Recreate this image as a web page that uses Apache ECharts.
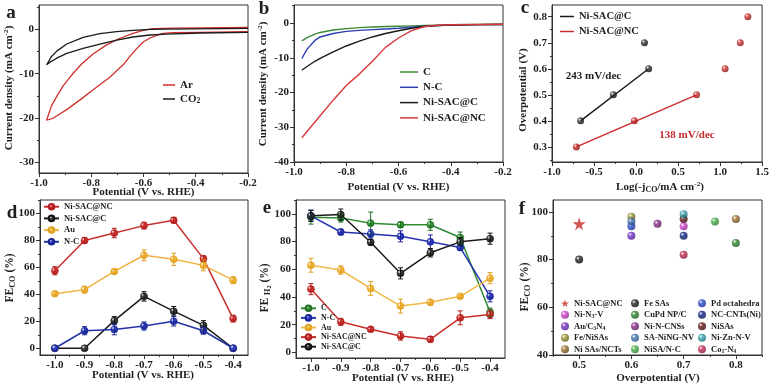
<!DOCTYPE html>
<html><head><meta charset="utf-8">
<script src="https://cdn.jsdelivr.net/npm/echarts@6/dist/echarts.min.js"></script>
<style>html,body{margin:0;padding:0;background:#fff}#c{width:772px;height:386px}</style>
</head><body><div id="c"></div>
<script>
// ---------- Panel a : CV loops ----------
const aArX = [-0.20,-0.385,-0.487,-0.525,-0.55,-0.576,-0.60,-0.627,-0.652,-0.678,-0.729,-0.79,-0.843,-0.894,-0.945,-0.971,-0.964,-0.952,-0.932,-0.907,-0.875,-0.837,-0.792,-0.741,-0.69,-0.64,-0.601,-0.563,-0.487,-0.20];
const aArY = [-0.52,-0.67,-0.75,-0.9,-1.35,-2.0,-2.8,-4.4,-6.1,-8.0,-10.8,-13.5,-15.9,-18.1,-20.0,-20.5,-19.3,-17.2,-15.1,-12.7,-10.3,-7.8,-5.5,-3.5,-2.0,-0.9,-0.22,0.15,0.3,0.45];
const aCoX = [-0.20,-0.385,-0.512,-0.576,-0.64,-0.703,-0.767,-0.831,-0.894,-0.932,-0.958,-0.971,-0.964,-0.952,-0.932,-0.894,-0.831,-0.767,-0.703,-0.64,-0.576,-0.512,-0.20];
const aCoY = [-0.67,-0.82,-1.05,-1.27,-1.72,-2.4,-3.3,-4.3,-5.4,-6.5,-7.4,-8.0,-7.3,-6.1,-4.9,-3.3,-1.8,-0.97,-0.52,-0.22,0.0,0.07,0.22];
const aXTicks = [-1.0,-0.8,-0.6,-0.4,-0.2];
const aYTicks = [-30,-20,-10,0];

// ---------- Panel b : LSV ----------
const bX   = [-0.97,-0.95,-0.92,-0.90,-0.85,-0.80,-0.75,-0.70,-0.65,-0.60,-0.55,-0.50,-0.45,-0.40,-0.30,-0.20];
const bC   = [-5.1,-4.2,-3.2,-2.7,-2.0,-1.6,-1.3,-1.15,-1.0,-0.9,-0.8,-0.7,-0.6,-0.5,-0.4,-0.35];
const bNC  = [-10.2,-7.5,-5.0,-4.0,-3.0,-2.4,-2.1,-1.9,-1.7,-1.5,-1.2,-0.9,-0.7,-0.55,-0.45,-0.4];
const bNiC = [-13.6,-12.5,-11.0,-10.2,-8.3,-6.6,-5.2,-4.0,-3.0,-2.2,-1.5,-1.0,-0.75,-0.6,-0.45,-0.4];
const bNiNC= [-33.0,-31.2,-28.5,-26.7,-22.2,-18.0,-14.7,-11.0,-7.0,-4.3,-2.2,-1.0,-0.65,-0.5,-0.4,-0.35];
const bXTicks = [-1.0,-0.8,-0.6,-0.4,-0.2];
const bYTicks = [-40,-30,-20,-10,0];

// ---------- Panel c : Tafel ----------
const cNiCX = [-0.66,-0.27,0.15,0.10];
const cNiCY = [0.4,0.5,0.6,0.7];
const cNiNCX = [-0.71,-0.02,0.72,1.06,1.24,1.33];
const cNiNCY = [0.3,0.4,0.5,0.6,0.7,0.8];
const cXTicks = [-1.0,-0.5,0.0,0.5,1.0,1.5];
const cYTicks = [0.3,0.4,0.5,0.6,0.7,0.8];

// ---------- Panel d : FE CO ----------
const dX = [-1.0,-0.9,-0.8,-0.7,-0.6,-0.5,-0.4];
const dNiNC = [57.5,80,85.5,91,95,66.5,22];   const dNiNCErr = [3,2,3.5,2.5,2,2,2.5];
const dNiC  = [0,0,20.5,38.5,27.5,17,0];      const dNiCErr  = [0,0,3,3.5,3.5,3.5,0];
const dAu   = [40.5,43.5,57,69,66,61.5,50.5]; const dAuErr   = [1.5,2.5,1.5,4,4.5,4,2.5];
const dNC   = [0,13,14,16.5,20,13,0];         const dNCErr   = [0,3,4,3,3.5,2.5,0];
const dXTicks = [-1.0,-0.9,-0.8,-0.7,-0.6,-0.5,-0.4];
const dYTicks = [0,20,40,60,80,100];

// ---------- Panel e : FE H2 ----------
const eX = [-1.0,-0.9,-0.8,-0.7,-0.6,-0.5,-0.4];
const eC    = [97.6,97.1,93.3,92.1,92.1,82.9,29];  const eCErr    = [5,3,8,2,4,4,3];
const eNC   = [98.6,86.9,85.5,83.8,79.8,75.7,40.5];const eNCErr   = [4,2,3,4,5,2,4];
const eAu   = [62.9,59.5,46.2,33.5,36.2,40.5,53.6];const eAuErr   = [5,3,5,5,2,1,4];
const eNiNC = [45.7,22.1,16.7,11.9,9.5,25,27.4];   const eNiNCErr = [4,2.5,1.5,3,2,5,3];
const eNiC  = [98.6,99.5,79.5,57.1,71.9,79.8,82.1];const eNiCErr  = [4,4,2,4,3,3,4];
const eXTicks = [-1.0,-0.9,-0.8,-0.7,-0.6,-0.5,-0.4];
const eYTicks = [0,20,40,60,80,100];

// ---------- Panel f : comparison ----------
const fNames  = ['Ni-SAC@NC','Fe SAs','Pd octahedra','Ni-N3-V','CuPd NP/C','NC-CNTs(Ni)','Au/C3N4','Ni-N-CNSs','NiSAs','Fe/NiSAs','SA-NiNG-NV','Ni-Zn-N-V','Ni SAs/NCTs','NiSA/N-C','Co1-N4'];
const fLabels = ['Ni-SAC@NC','Fe SAs','Pd octahedra','Ni-N{s|3}-V','CuPd NP/C','NC-CNTs(Ni)','Au/C{s|3}N{s|4}','Ni-N-CNSs','NiSAs','Fe/NiSAs','SA-NiNG-NV','Ni-Zn-N-V','Ni SAs/NCTs','NiSA/N-C','Co{s|1}-N{s|4}'];
const fX = [0.5,0.5,0.6,0.7,0.8,0.7,0.6,0.65,0.7,0.6,0.6,0.7,0.8,0.76,0.7];
const fY = [95,80,94,94,87,90,90,95,97,98,96,99,97,96,82];
const fXTicks = [0.5,0.6,0.7,0.8];
const fYTicks = [40,60,80,100];

// ================= chart construction =================
const FONT = '"Liberation Serif","Times New Roman",serif';
const INK = '#1e1e1e';
const STAR = 'path://M50,0 L61.2,34.5 L97.6,34.5 L68.2,55.9 L79.4,90.5 L50,69.1 L20.6,90.5 L31.8,55.9 L2.4,34.5 L38.8,34.5 Z';
const zip = (xs, ys) => xs.map((x, i) => [x, ys[i]]);
const mids = t => t.slice(0, -1).map((v, i) => (v + t[i + 1]) / 2);
const fmt = (v, d) => { const r = Math.round(v * 1000) / 1000; return (r === 0 ? 0 : r).toFixed(d); };
function ball(c, dark) {
  return {type:'radial', x:0.35, y:0.32, r:0.75, colorStops:[
    {offset:0, color:'#ffffff'}, {offset:0.3, color:c}, {offset:1, color:dark || c}]};
}

const panels = [
  {g:{left:39,top:5,width:209,height:168},   x:[-1.0,-0.2],  y:[-32.4,5.5],  xt:aXTicks, yt:aYTicks, xd:1, yd:0, xm:mids(aXTicks), ym:[-25,-15,-5,5]},
  {g:{left:294,top:5,width:209,height:157},  x:[-1.0,-0.2],  y:[-40,5.2],    xt:bXTicks, yt:bYTicks, xd:1, yd:0, xm:mids(bXTicks), ym:[-35,-25,-15,-5,5]},
  {g:{left:552,top:5,width:212,height:157},  x:[-1.0,1.5],   y:[0.242,0.845],xt:cXTicks, yt:cYTicks, xd:1, yd:1, xm:[-0.75,-0.25,0.25,0.75,1.25], ym:[0.25,0.35,0.45,0.55,0.65,0.75,0.85]},
  {g:{left:40,top:200,width:208,height:155}, x:[-1.05,-0.35],y:[-5,110],     xt:dXTicks, yt:dYTicks, xd:1, yd:0, xm:mids(dXTicks), ym:[10,30,50,70,90,110]},
  {g:{left:296,top:200,width:209,height:158},x:[-1.05,-0.35],y:[-4,110],     xt:eXTicks, yt:eYTicks, xd:1, yd:0, xm:mids(eXTicks), ym:[10,30,50,70,90,110]},
  {g:{left:553,top:200,width:209,height:155},x:[0.45,0.85],  y:[40,105],     xt:fXTicks, yt:fYTicks, xd:1, yd:0, xm:[0.45,0.55,0.65,0.75,0.85], ym:[50,70,90]}
];

const grid = [], xAxis = [], yAxis = [];
panels.forEach((p, i) => {
  grid.push(Object.assign({show:true, borderColor:'#333', borderWidth:1, backgroundColor:'transparent'}, p.g));
  const lbl = d => ({show:true, fontFamily:FONT, fontWeight:'bold', fontSize:11, color:INK, margin:5, formatter:v => fmt(v, d)});
  xAxis.push({type:'value', gridIndex:i, min:p.x[0], max:p.x[1], position:'bottom',
    axisLine:{show:true, onZero:false, lineStyle:{color:'#333', width:1}},
    axisTick:{show:true, inside:false, length:4, customValues:p.xt, lineStyle:{color:'#333'}},
    axisLabel:Object.assign(lbl(p.xd), {customValues:p.xt}), splitLine:{show:false}});
  xAxis.push({type:'value', gridIndex:i, min:p.x[0], max:p.x[1], position:'bottom',
    axisLine:{show:false, onZero:false}, axisTick:{show:true, length:2, customValues:p.xm, lineStyle:{color:'#333'}},
    axisLabel:{show:false}, splitLine:{show:false}});
  yAxis.push({type:'value', gridIndex:i, min:p.y[0], max:p.y[1], position:'left',
    axisLine:{show:true, onZero:false, lineStyle:{color:'#333', width:1}},
    axisTick:{show:true, inside:false, length:4, customValues:p.yt, lineStyle:{color:'#333'}},
    axisLabel:Object.assign(lbl(p.yd), {customValues:p.yt}), splitLine:{show:false}});
  yAxis.push({type:'value', gridIndex:i, min:p.y[0], max:p.y[1], position:'left',
    axisLine:{show:false, onZero:false}, axisTick:{show:true, length:2, customValues:p.ym, lineStyle:{color:'#333'}},
    axisLabel:{show:false}, splitLine:{show:false}});
});

const series = [];
function curve(panel, name, xs, ys, color, w) {
  series.push({type:'line', name, xAxisIndex:2*panel, yAxisIndex:2*panel, data:zip(xs, ys),
    symbol:'none', showSymbol:false, smooth:false, lineStyle:{color, width:w || 1.3}, itemStyle:{color}, z:3});
}
function errRender(params, api) {
  const x = api.value(0), lo = api.value(1), hi = api.value(2);
  if (hi - lo <= 0) return {type:'group', children:[]};
  const p1 = api.coord([x, hi]), p2 = api.coord([x, lo]);
  const w = 2.5, st = {stroke:api.visual('color'), lineWidth:1};
  return {type:'group', children:[
    {type:'line', shape:{x1:p1[0],y1:p1[1],x2:p2[0],y2:p2[1]}, style:st},
    {type:'line', shape:{x1:p1[0]-w,y1:p1[1],x2:p1[0]+w,y2:p1[1]}, style:st},
    {type:'line', shape:{x1:p2[0]-w,y1:p2[1],x2:p2[0]+w,y2:p2[1]}, style:st}]};
}
function fePoints(panel, name, xs, ys, errs, color, dark, lineColor) {
  series.push({type:'line', name, xAxisIndex:2*panel, yAxisIndex:2*panel, data:zip(xs, ys),
    symbol:'circle', symbolSize:7, showSymbol:true, lineStyle:{color:lineColor || color, width:1.5},
    itemStyle:{color:ball(color, dark), borderColor:dark, borderWidth:0.6}, z:3});
  series.push({type:'custom', name:name + '#err', xAxisIndex:2*panel, yAxisIndex:2*panel,
    data:xs.map((x, i) => [x, ys[i] - errs[i], ys[i] + errs[i]]), renderItem:errRender,
    itemStyle:{color:dark}, z:4, encode:{x:0, y:[1,2]}});
}

// a
curve(0, 'a:Ar', aArX, aArY, '#d0302c', 1.3);
curve(0, 'a:CO2', aCoX, aCoY, '#1a1a1a', 1.3);
// b
curve(1, 'b:C', bX, bC, '#3a8a35', 1.4);
curve(1, 'b:N-C', bX, bNC, '#2b3fb0', 1.4);
curve(1, 'b:Ni-SAC@C', bX, bNiC, '#1a1a1a', 1.4);
curve(1, 'b:Ni-SAC@NC', bX, bNiNC, '#d83838', 1.4);
// c
series.push({type:'line', name:'c:Ni-SAC@C', xAxisIndex:4, yAxisIndex:4, symbol:'none',
  data:[[cNiCX[0], cNiCY[0]], [cNiCX[2], cNiCY[2]]], lineStyle:{color:'#1a1a1a', width:1.4}, itemStyle:{color:'#1a1a1a'}});
series.push({type:'line', name:'c:Ni-SAC@NC', xAxisIndex:4, yAxisIndex:4, symbol:'none',
  data:[[cNiNCX[0], cNiNCY[0]], [cNiNCX[2], cNiNCY[2]]], lineStyle:{color:'#d02a2a', width:1.4}, itemStyle:{color:'#d02a2a'}});
series.push({type:'scatter', name:'c:bk', xAxisIndex:4, yAxisIndex:4, data:zip(cNiCX, cNiCY),
  symbolSize:7, itemStyle:{color:ball('#3a3a3a', '#000')}, z:5});
series.push({type:'scatter', name:'c:rd', xAxisIndex:4, yAxisIndex:4, data:zip(cNiNCX, cNiNCY),
  symbolSize:7, itemStyle:{color:ball('#d03030', '#8a1010')}, z:5});
// d
fePoints(3, 'd:Ni-SAC@NC', dX, dNiNC, dNiNCErr, '#d63a34', '#b01e1e', '#c8302c');
fePoints(3, 'd:Ni-SAC@C', dX, dNiC, dNiCErr, '#444444', '#111111', '#1a1a1a');
fePoints(3, 'd:Au', dX, dAu, dAuErr, '#f4b840', '#e0a020', '#f0b040');
fePoints(3, 'd:N-C', dX, dNC, dNCErr, '#3040c0', '#1a2590', '#2533a8');
// e
fePoints(4, 'e:C', eX, eC, eCErr, '#3a9a3a', '#1f6e22', '#2f8a30');
fePoints(4, 'e:N-C', eX, eNC, eNCErr, '#3040c8', '#1a2598', '#2533b0');
fePoints(4, 'e:Au', eX, eAu, eAuErr, '#f4b840', '#e0a020', '#f0b845');
fePoints(4, 'e:Ni-SAC@NC', eX, eNiNC, eNiNCErr, '#d63a34', '#b01e1e', '#cc2e2a');
fePoints(4, 'e:Ni-SAC@C', eX, eNiC, eNiCErr, '#444444', '#111111', '#1a1a1a');
// f
const fColors = ['#c8282a','#2a2a2a','#2a4ed0','#d848d0','#2f8a30','#14268a','#7a34c8','#8c2c8c','#6a1818','#a09a34','#4a7ab4','#3aa6ae','#a07632','#4cb04a','#c83058'];
const fDark   = ['#a01818','#000000','#14288a','#8a1a8a','#14501a','#050f50','#40108a','#501050','#300606','#5a5410','#204a80','#156a70','#5a3e10','#207a22','#801030'];
fNames.forEach((n, i) => {
  series.push({type:'scatter', name:'f:' + n, xAxisIndex:10, yAxisIndex:10, data:[[fX[i], fY[i]]],
    symbol: i === 0 ? STAR : 'circle', symbolSize: i === 0 ? 13 : 8,
    itemStyle:{color: i === 0 ? '#c82a2a' : ball(fColors[i], fDark[i])}, z:5});
});

const strip = n => n.slice(2);
const legTxt = (size, lh) => ({fontFamily:FONT, fontWeight:'bold', fontSize:size, color:INK, lineHeight:lh,
  rich:{s:{fontFamily:FONT, fontWeight:'bold', fontSize:size*0.7, color:INK, padding:[size*0.45,0,0,0]}}});
const baseLeg = {orient:'vertical', padding:0, selectedMode:false, inactiveColor:'#999'};
const legend = [
  Object.assign({}, baseLeg, {left:163, top:79, icon:'rect', itemWidth:12, itemHeight:1.5, itemGap:2, data:['a:Ar','a:CO2'],
    formatter:n => n === 'a:CO2' ? 'CO{s|2}' : strip(n), textStyle:legTxt(11, 12)}),
  Object.assign({}, baseLeg, {left:400, top:66, icon:'rect', itemWidth:18, itemHeight:1.5, itemGap:3.3, data:['b:C','b:N-C','b:Ni-SAC@C','b:Ni-SAC@NC'],
    formatter:strip, textStyle:legTxt(11, 12)}),
  Object.assign({}, baseLeg, {left:560, top:10.5, icon:'rect', itemWidth:14, itemHeight:1.5, itemGap:3, data:['c:Ni-SAC@C','c:Ni-SAC@NC'],
    formatter:strip, textStyle:legTxt(10.5, 12)}),
  Object.assign({}, baseLeg, {left:43, top:201.7, itemWidth:15, itemHeight:7, itemGap:1.7, data:['d:Ni-SAC@NC','d:Ni-SAC@C','d:Au','d:N-C'],
    formatter:strip, textStyle:legTxt(8.5, 10)}),
  Object.assign({}, baseLeg, {left:300, top:303.8, itemWidth:15, itemHeight:7, itemGap:0.6, data:['e:C','e:N-C','e:Au','e:Ni-SAC@NC','e:Ni-SAC@C'],
    formatter:strip, textStyle:legTxt(8, 9)})
];
[0,1,2].forEach(col => {
  const idx = [0,1,2,3,4].map(r => r * 3 + col);
  legend.push(Object.assign({}, baseLeg, {left:[561,631,698][col], top:298.3, itemWidth:8, itemHeight:8, itemGap:1.5,
    data:idx.map(i => 'f:' + fNames[i]), formatter:n => fLabels[fNames.indexOf(n.slice(2))], textStyle:legTxt(8.5, 10)}));
});

// titles and letters
const T = (x, y, text, size, rot) => ({type:'text', x, y, rotation:rot || 0, silent:true,
  style:{text, fontFamily:FONT, fontWeight:'bold', fontSize:size, fill:INK, align:'center', verticalAlign:'middle',
    rich:{
      s:{fontFamily:FONT, fontWeight:'bold', fontSize:size*0.72, fill:INK, padding:[size*0.5,0,0,0]},
      t:{fontFamily:FONT, fontWeight:'bold', fontSize:size*0.55, fill:INK, padding:[size*0.8,0,0,0]},
      u:{fontFamily:FONT, fontWeight:'bold', fontSize:size*0.65, fill:INK, padding:[0,0,size*0.55,0]}
    }}});
const R = Math.PI / 2;
const graphic = [
  T(11, 13, 'a', 19), T(264, 9, 'b', 19), T(525, 8, 'c', 19),
  T(12, 213, 'd', 19), T(267, 208, 'e', 19), T(522, 209, 'f', 19),
  T(143.5, 192, 'Potential (V vs. RHE)', 11),
  T(398.5, 187, 'Potential (V vs. RHE)', 11),
  T(660, 187, 'Log(-j{s|CO}/mA cm{u|-2})', 11),
  T(143, 375, 'Potential (V vs. RHE)', 11),
  T(403, 378, 'Potential (V vs. RHE)', 11),
  T(658, 378, 'Overpotential (V)', 11),
  T(9, 88, 'Current density (mA cm{u|-2})', 11, R),
  T(263, 84, 'Current density (mA cm{u|-2})', 11, R),
  T(523, 90, 'Overpotential (V)', 11, R),
  T(10, 278, 'FE{s|CO} (%)', 11.5, R),
  T(265, 288, 'FE {s|H}{t|2} (%)', 11.5, R),
  T(525, 287, 'FE{s|CO} (%)', 11.5, R),
  T(593.5, 76, '243 mV/dec', 11),
  T(687, 135, '138 mV/dec', 11)
];
graphic[graphic.length - 1].style.fill = '#c02a2a';

const chart = echarts.init(document.getElementById('c'), null, {renderer:'canvas', width:772, height:386});
chart.setOption({animation:false, backgroundColor:'#ffffff', grid, xAxis, yAxis, series, legend, graphic});
</script></body></html>
